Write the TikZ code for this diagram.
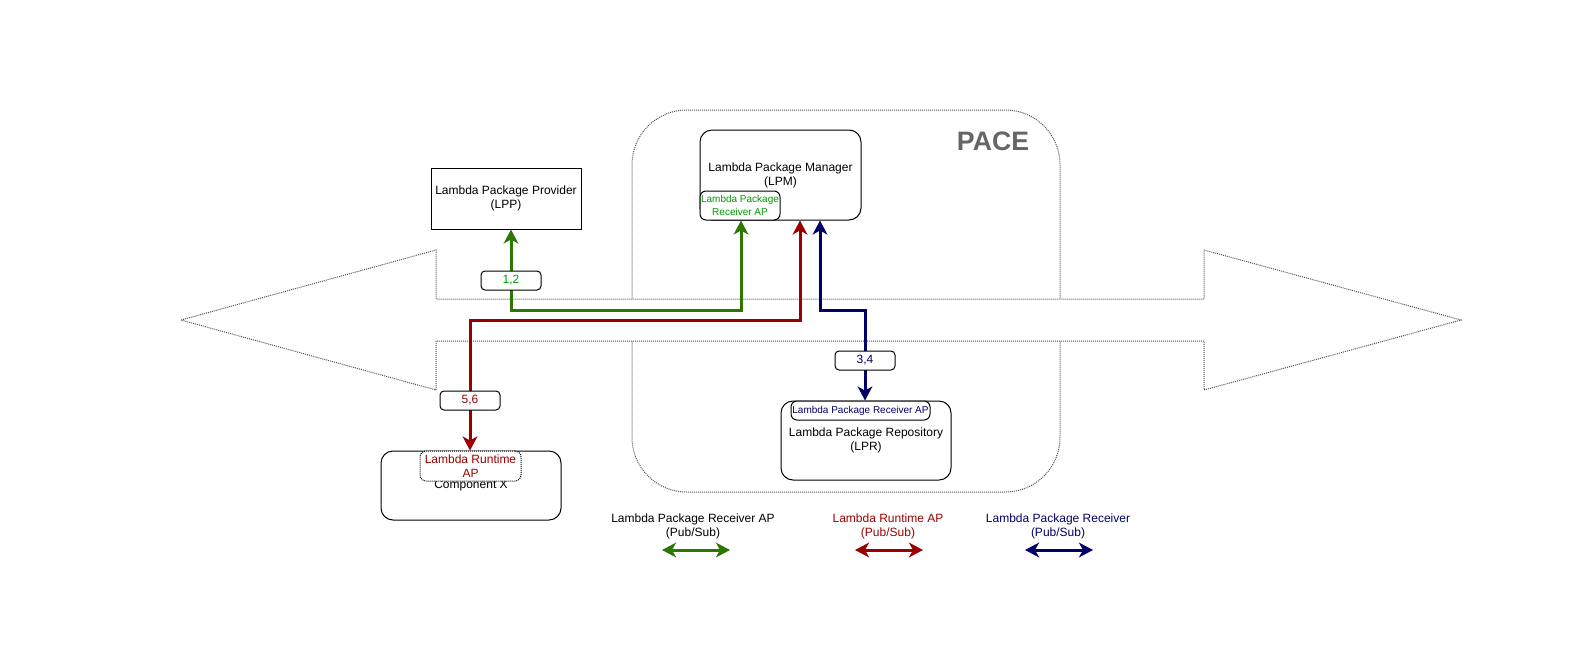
\documentclass[tikz,border=0pt]{standalone}
\usepackage{fontspec}
\setmainfont{Liberation Sans}
\usetikzlibrary{arrows.meta}
\definecolor{lgreen}{HTML}{2D7600}
\definecolor{tgreen}{HTML}{009900}
\definecolor{dred}{HTML}{990000}
\definecolor{dblue}{HTML}{000066}
\definecolor{pacegray}{HTML}{666666}
\definecolor{dotgray}{HTML}{555555}
\begin{document}
\begin{tikzpicture}[x=0.75pt,y=-0.75pt,
  font=\fontsize{9}{10.5}\selectfont,
  box/.style={draw, line width=0.75pt, align=center, inner sep=0pt, fill=white},
  rbox/.style={box, rounded corners=9pt},
  apbox/.style={box, rounded corners=4.5pt, font=\fontsize{7.5}{9.75}\selectfont},
  lab/.style={box, rounded corners=3pt, minimum width=45pt, minimum height=14.25pt},
  dotline/.style={draw=dotgray, line width=0.75pt, dash pattern=on 0.75pt off 0.75pt},
  conn/.style={line width=2.25pt, {Stealth[length=10.5pt,width=11pt,inset=3pt]}-{Stealth[length=10.5pt,width=11pt,inset=3pt]}},
  garr/.style={conn, draw=lgreen},
  rarr/.style={conn, draw=dred},
  barr/.style={conn, draw=dblue},
  legtext/.style={align=center, font=\fontsize{9}{10.5}\selectfont}
]
\useasboundingbox[fill=white] (0,0) rectangle (1591,661);

% PACE container
\draw[dotline, rounded corners=41pt] (632,110) rectangle (1060,492);
\node[font=\bfseries\fontsize{20}{24}\selectfont, text=pacegray] (pacet) at (993,141) {PACE};

% big double arrow
\draw[dotline, fill=white] (181,320) -- (436,250) -- (436,299) -- (1204,299) -- (1204,250)
  -- (1461,320) -- (1204,390) -- (1204,341) -- (436,341) -- (436,390) -- cycle;

% boxes
\node[box, minimum width=112.5pt, minimum height=45.75pt] (lpp) at (506,198.5)
  {Lambda Package Provider\\(LPP)};
\node[rbox, minimum width=120.75pt, minimum height=67.5pt] (lpm) at (780.5,175)
  {Lambda Package Manager\\(LPM)};
\node[apbox, text=tgreen, minimum width=60pt, minimum height=21.75pt] (lpmap) at (740,205.5)
  {Lambda Package\\Receiver AP};
\node[rbox, minimum width=135pt, minimum height=51.75pt] (compx) at (471,485.5)
  {Component X};
\node[box, rounded corners=4.5pt, dash pattern=on 0.75pt off 0.75pt, text=dred,
  minimum width=75.75pt, minimum height=22.5pt] (rtap) at (470.5,466)
  {Lambda Runtime\\AP};
\node[rbox, minimum width=127.5pt, minimum height=59.25pt] (lpr) at (866,440.5)
  {Lambda Package Repository\\(LPR)};
\node[apbox, text=dblue, minimum width=104.25pt, minimum height=14.25pt] (lprap) at (860.5,410.5)
  {Lambda Package Receiver AP};

% connectors
\coordinate (g1) at (511,310);
\coordinate (g2) at (741,310);
\draw[garr] (lpp.south -| g1) -- (g1) -- (g2) -- (lpmap.south -| g2);
\coordinate (r1) at (800,320);
\coordinate (r2) at (470,320);
\draw[rarr] (lpm.south -| r1) -- (r1) -- (r2) -- (compx.north -| r2);
\coordinate (b1) at (820,310);
\coordinate (b2) at (865,310);
\draw[barr] (lpm.south -| b1) -- (b1) -- (b2) -- (lpr.north -| b2);

% labels
\node[lab, text=tgreen] (lab12) at (511,280.5) {1,2};
\node[lab, text=dred] (lab56) at (470,400.5) {5,6};
\node[lab, text=dblue] (lab34) at (865,360.5) {3,4};

% legend
\node[legtext] (leg1) at (693,526) {Lambda Package Receiver AP\\(Pub/Sub)};
\node[legtext, text=dred] (leg2) at (888,526) {Lambda Runtime AP\\(Pub/Sub)};
\node[legtext, text=dblue] (leg3) at (1058,526) {Lambda Package Receiver\\(Pub/Sub)};
\coordinate (l1a) at (662,550); \coordinate (l1b) at (730,550);
\coordinate (l2a) at (855,550); \coordinate (l2b) at (923,550);
\coordinate (l3a) at (1025,550); \coordinate (l3b) at (1093,550);
\draw[garr] (l1a) -- (l1b);
\draw[rarr] (l2a) -- (l2b);
\draw[barr] (l3a) -- (l3b);
\end{tikzpicture}
\end{document}
